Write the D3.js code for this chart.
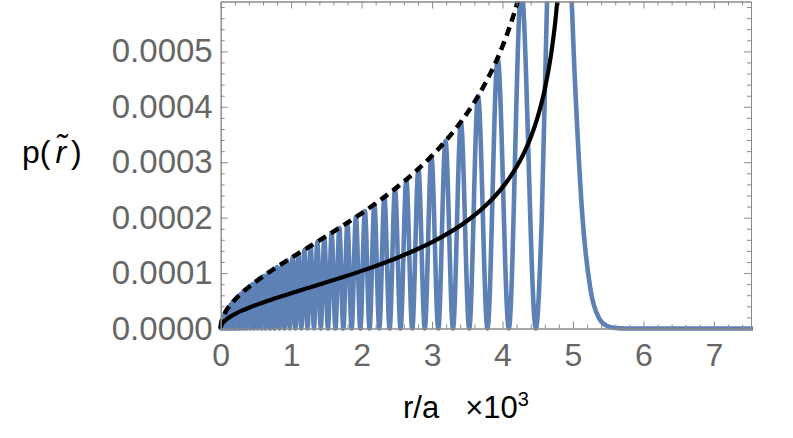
<!DOCTYPE html>
<html>
<head>
<meta charset="utf-8">
<script src="https://cdn.jsdelivr.net/npm/d3@7"></script>
<style>
  html, body { margin: 0; padding: 0; background: #fff; }
  svg { display: block; }
</style>
</head>
<body>
<svg id="chart" width="793" height="438"></svg>
<script>
// ---- data (x in units of 10^3 r/a) ----
const xTickValues = [0, 1, 2, 3, 4, 5, 6, 7];
const xTickLabels = ["0", "1", "2", "3", "4", "5", "6", "7"];
const yTickValues = [0, 0.0001, 0.0002, 0.0003, 0.0004, 0.0005];
const yTickLabels = ["0.0000", "0.0001", "0.0002", "0.0003", "0.0004", "0.0005"];
const xMinorTicks = [0.2,0.4,0.6,0.8,1.2,1.4,1.6,1.8,2.2,2.4,2.6,2.8,3.2,3.4,3.6,3.8,4.2,4.4,4.6,4.8,5.2,5.4,5.6,5.8,6.2,6.4,6.6,6.8,7.2,7.4];
const yMinorTicks = [0.00002,0.00004,0.00006,0.00008,0.00012,0.00014,0.00016,0.00018,0.00022,0.00024,0.00026,0.00028,0.00032,0.00034,0.00036,0.00038,0.00042,0.00044,0.00046,0.00048,0.00052,0.00054,0.00056,0.00058];

// quantum density: alternating zeros (nodes) and maxima, then the tail
const quantumR = [0,
  0.000694,0.001928,0.00378,0.006251,0.009336,0.013043,0.017369,0.022317,0.027887,0.034081,
  0.040901,0.048348,0.056423,0.065129,0.074468,0.084444,0.095056,0.106313,0.118208,0.130758,
  0.14395,0.15781,0.17232,0.18749,0.20331,0.21982,0.23700,0.25487,0.27342,0.29265,
  0.31257,0.33320,0.35454,0.37661,0.39939,0.42290,0.44712,0.47210,0.49785,0.52436,
  0.55164,0.57968,0.60850,0.63813,0.66859,0.69988,0.73198,0.76492,0.79872,0.83341,
  0.86900,0.90549,0.94287,0.98118,1.02047,1.06076,1.10202,1.14428,1.18756,1.23194,
  1.27742,1.32400,1.37168,1.42055,1.47065,1.52200,1.57459,1.62846,1.68374,1.74045,
  1.79858,1.85816,1.91936,1.98222,2.04674,2.11296,2.18111,2.25123,2.32332,2.39755,
  2.47415,2.55311,2.63459,2.71895,2.80623,2.89664,2.99068,3.08840,3.19046,3.29721,
  3.40923,3.52747,3.65276,3.78657,3.93114,4.08920,4.26626,4.47329,
  4.556,4.672,4.784,4.904,5.02,5.136,5.252,5.368,5.484,5.60,5.75,7.56];
const quantumP = [0,
  3.0e-6,0,7.0e-6,0,1.10e-5,0,1.50e-5,0,1.91e-5,0,
  2.31e-5,0,2.72e-5,0,3.13e-5,0,3.54e-5,0,3.96e-5,0,
  4.38e-5,0,4.81e-5,0,5.24e-5,0,5.68e-5,0,6.12e-5,0,
  6.57e-5,0,7.03e-5,0,7.50e-5,0,7.98e-5,0,8.47e-5,0,
  8.97e-5,0,9.48e-5,0,1.000e-4,0,1.054e-4,0,1.110e-4,0,
  1.168e-4,0,1.227e-4,0,1.289e-4,0,1.354e-4,0,1.421e-4,0,
  1.491e-4,0,1.565e-4,0,1.643e-4,0,1.726e-4,0,1.814e-4,0,
  1.908e-4,0,2.010e-4,0,2.119e-4,0,2.240e-4,0,2.372e-4,0,
  2.520e-4,0,2.687e-4,0,2.880e-4,0,3.106e-4,0,3.381e-4,0,
  3.727e-4,0,4.192e-4,0,4.883e-4,0,6.139e-4,0,
  1.92e-4,8.0e-4,1.063e-3,8.4e-4,4.68e-4,1.99e-4,6.8e-5,1.91e-5,4.5e-6,9e-7,0,0];

// classical density (solid) and its envelope (dashed)
const classicalR = [0,0.002,0.005,0.01,0.02,0.04,0.07,0.1,0.15,0.2,0.3,0.4,0.5,0.75,1.0,1.25,1.5,1.75,2.0,2.25,2.5,2.75,3.0,3.25,3.5,3.75,4.0,4.1,4.2,4.3,4.4,4.5,4.6,4.7,4.75,4.8];
const classicalP = [0,2.55e-6,4.03e-6,5.70e-6,8.07e-6,1.143e-5,1.517e-5,1.819e-5,2.239e-5,2.599e-5,3.217e-5,3.754e-5,4.244e-5,5.348e-5,6.366e-5,7.351e-5,8.335e-5,9.343e-5,1.0396e-4,1.1517e-4,1.2732e-4,1.4076e-4,1.5594e-4,1.7351e-4,1.9449e-4,2.2053e-4,2.5465e-4,2.7175e-4,2.9173e-4,3.1556e-4,3.4479e-4,3.8197e-4,4.3177e-4,5.0395e-4,5.5498e-4,6.2375e-4];
const envelopeR = [0,0.002,0.005,0.01,0.02,0.04,0.07,0.1,0.15,0.2,0.3,0.4,0.5,0.75,1.0,1.25,1.5,1.75,2.0,2.25,2.5,2.75,3.0,3.25,3.5,3.75,4.0,4.1,4.2,4.3];
const envelopeP = [0,5.10e-6,8.06e-6,1.140e-5,1.614e-5,2.286e-5,3.034e-5,3.638e-5,4.478e-5,5.198e-5,6.434e-5,7.508e-5,8.488e-5,1.0696e-4,1.2732e-4,1.4702e-4,1.6670e-4,1.8686e-4,2.0792e-4,2.3034e-4,2.5464e-4,2.8152e-4,3.1188e-4,3.4702e-4,3.8898e-4,4.4106e-4,5.0930e-4,5.4350e-4,5.8346e-4,6.3112e-4];

// ---- layout ----
const svg = d3.select("#chart");
const X0 = 220.7, X1 = 751, Y0 = 328.5, Y1 = 1.5;
const x = d3.scaleLinear().domain([0, 7.527]).range([X0, X1]);
const y = d3.scaleLinear().domain([0, 0.000590]).range([Y0, Y1]);

const frameColor = "#8a8a8a";
const labelColor = "#666666";
const font = "'Liberation Sans', Arial, sans-serif";

svg.append("defs").append("clipPath").attr("id", "clip")
  .append("rect").attr("x", X0 - 4).attr("y", Y1).attr("width", X1 - X0 + 6).attr("height", Y0 - Y1 + 10);

const plot = svg.append("g").attr("clip-path", "url(#clip)");

const line = d3.line().curve(d3.curveMonotoneX);

plot.append("path")
  .attr("d", line(quantumR.map((r, i) => [x(r), y(quantumP[i])])))
  .attr("fill", "none").attr("stroke", "#5E81B5").attr("stroke-width", 4.6)
  .attr("stroke-linejoin", "round");

plot.append("path")
  .attr("d", line(classicalR.map((r, i) => [x(r), y(classicalP[i])])))
  .attr("fill", "none").attr("stroke", "#000").attr("stroke-width", 4.2);

plot.append("path")
  .attr("d", line(envelopeR.map((r, i) => [x(r), y(envelopeP[i])])))
  .attr("fill", "none").attr("stroke", "#000").attr("stroke-width", 4.5)
  .attr("stroke-dasharray", "9,6");

// ---- frame & ticks ----
function styleAxis(g) {
  g.selectAll("path.domain").attr("stroke", frameColor).attr("stroke-width", 1);
  g.selectAll(".tick line").attr("stroke", frameColor).attr("stroke-width", 1);
  g.selectAll(".tick text").attr("fill", labelColor).style("font-family", font);
}

const axB = svg.append("g").attr("transform", `translate(0,${Y0})`)
  .call(d3.axisBottom(x).tickValues(xTickValues).tickSize(-7).tickSizeOuter(0).tickPadding(15)
    .tickFormat((d, i) => xTickLabels[i]));
axB.selectAll(".tick text").style("font-size", "32px");
styleAxis(axB);
const axBm = svg.append("g").attr("transform", `translate(0,${Y0})`)
  .call(d3.axisBottom(x).tickValues(xMinorTicks).tickSize(-4).tickSizeOuter(0).tickFormat(""));
styleAxis(axBm);

const axT = svg.append("g").attr("transform", `translate(0,${Y1})`)
  .call(d3.axisTop(x).tickValues(xTickValues).tickSize(-7).tickSizeOuter(0).tickFormat(""));
styleAxis(axT);
const axTm = svg.append("g").attr("transform", `translate(0,${Y1})`)
  .call(d3.axisTop(x).tickValues(xMinorTicks).tickSize(-4).tickSizeOuter(0).tickFormat(""));
styleAxis(axTm);

const axL = svg.append("g").attr("transform", `translate(${X0},0)`)
  .call(d3.axisLeft(y).tickValues(yTickValues).tickSize(-7).tickSizeOuter(0).tickPadding(8)
    .tickFormat((d, i) => yTickLabels[i]));
axL.selectAll(".tick text").style("font-size", "33px");
styleAxis(axL);
const axLm = svg.append("g").attr("transform", `translate(${X0},0)`)
  .call(d3.axisLeft(y).tickValues(yMinorTicks).tickSize(-4).tickSizeOuter(0).tickFormat(""));
styleAxis(axLm);

const axR = svg.append("g").attr("transform", `translate(${X1},0)`)
  .call(d3.axisRight(y).tickValues(yTickValues).tickSize(-7).tickSizeOuter(0).tickFormat(""));
styleAxis(axR);
const axRm = svg.append("g").attr("transform", `translate(${X1},0)`)
  .call(d3.axisRight(y).tickValues(yMinorTicks).tickSize(-4).tickSizeOuter(0).tickFormat(""));
styleAxis(axRm);

// ---- axis labels ----
const yl = svg.append("text").attr("x", 22).attr("y", 163)
  .style("font-family", font).style("font-size", "32px").attr("fill", "#000");
yl.append("tspan").text("p(");
yl.append("tspan").style("font-style", "italic").attr("dx", 5).text("r\u0303");
yl.append("tspan").attr("dx", 5).text(")");

const xl = svg.append("text").attr("x", 403).attr("y", 418)
  .style("font-family", font).style("font-size", "31px").attr("fill", "#000");
xl.append("tspan").text("r/a");
xl.append("tspan").attr("dx", 26).text("\u00d710");
xl.append("tspan").attr("dy", -12).style("font-size", "20px").text("3");
</script>
</body>
</html>
